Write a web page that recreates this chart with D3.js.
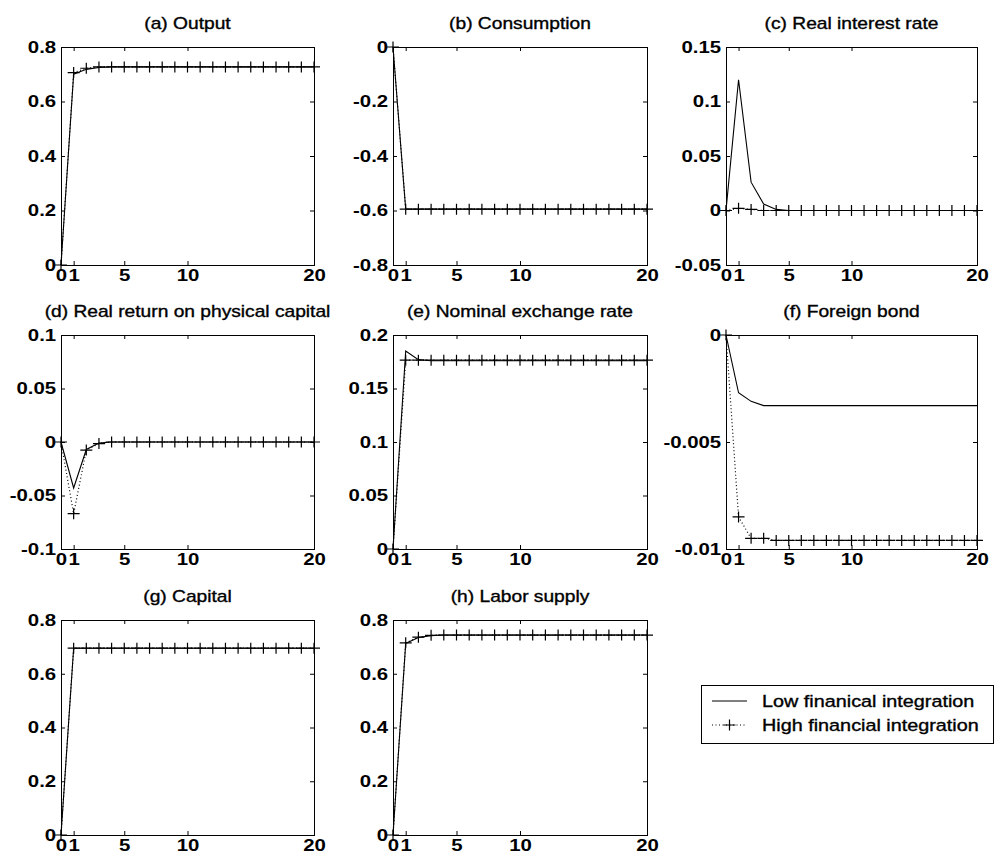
<!DOCTYPE html>
<html>
<head>
<meta charset="utf-8">
<script src="https://cdn.jsdelivr.net/npm/d3@7"></script>
<style>
  body { margin: 0; background: #fff; }
  text { font-family: "Liberation Sans", Arial, sans-serif; fill: #000; }
  .label { stroke: #000; stroke-width: 0.35px; }
</style>
</head>
<body>
<div id="chart"></div>
<script>
/* periods after the shock, and the x ticks that are labelled */
const periods = [0, 1, 2, 3, 4, 5, 6, 7, 8, 9, 10, 11, 12, 13, 14, 15, 16, 17, 18, 19, 20];
const xTicks = [0, 1, 5, 10, 20];

/* (a) Output */
const outputLow  = [0, 0.700, 0.718, 0.725, 0.727, 0.727, 0.727, 0.727, 0.727, 0.727, 0.727, 0.727, 0.727, 0.727, 0.727, 0.727, 0.727, 0.727, 0.727, 0.727, 0.727];
const outputHigh = [0, 0.706, 0.722, 0.727, 0.727, 0.727, 0.727, 0.727, 0.727, 0.727, 0.727, 0.727, 0.727, 0.727, 0.727, 0.727, 0.727, 0.727, 0.727, 0.727, 0.727];

/* (b) Consumption */
const consumptionLow  = [0, -0.595, -0.595, -0.595, -0.595, -0.595, -0.595, -0.595, -0.595, -0.595, -0.595, -0.595, -0.595, -0.595, -0.595, -0.595, -0.595, -0.595, -0.595, -0.595, -0.595];
const consumptionHigh = [0, -0.595, -0.595, -0.595, -0.595, -0.595, -0.595, -0.595, -0.595, -0.595, -0.595, -0.595, -0.595, -0.595, -0.595, -0.595, -0.595, -0.595, -0.595, -0.595, -0.595];

/* (c) Real interest rate */
const interestLow  = [0, 0.120, 0.026, 0.006, 0.001, 0, 0, 0, 0, 0, 0, 0, 0, 0, 0, 0, 0, 0, 0, 0, 0];
const interestHigh = [0, 0.002, 0.001, 0, 0, 0, 0, 0, 0, 0, 0, 0, 0, 0, 0, 0, 0, 0, 0, 0, 0];

/* (d) Real return on physical capital */
const returnLow  = [0, -0.043, -0.007, -0.001, 0, 0, 0, 0, 0, 0, 0, 0, 0, 0, 0, 0, 0, 0, 0, 0, 0];
const returnHigh = [0, -0.067, -0.0075, -0.0015, 0, 0, 0, 0, 0, 0, 0, 0, 0, 0, 0, 0, 0, 0, 0, 0, 0];

/* (e) Nominal exchange rate */
const exchangeLow  = [0, 0.185, 0.177, 0.176, 0.176, 0.176, 0.176, 0.176, 0.176, 0.176, 0.176, 0.176, 0.176, 0.176, 0.176, 0.176, 0.176, 0.176, 0.176, 0.176, 0.176];
const exchangeHigh = [0, 0.1765, 0.1765, 0.1765, 0.1765, 0.1765, 0.1765, 0.1765, 0.1765, 0.1765, 0.1765, 0.1765, 0.1765, 0.1765, 0.1765, 0.1765, 0.1765, 0.1765, 0.1765, 0.1765, 0.1765];

/* (f) Foreign bond */
const bondLow  = [0, -0.0027, -0.0031, -0.0033, -0.0033, -0.0033, -0.0033, -0.0033, -0.0033, -0.0033, -0.0033, -0.0033, -0.0033, -0.0033, -0.0033, -0.0033, -0.0033, -0.0033, -0.0033, -0.0033, -0.0033];
const bondHigh = [0, -0.0085, -0.0095, -0.0095, -0.0096, -0.0096, -0.0096, -0.0096, -0.0096, -0.0096, -0.0096, -0.0096, -0.0096, -0.0096, -0.0096, -0.0096, -0.0096, -0.0096, -0.0096, -0.0096, -0.0096];

/* (g) Capital */
const capitalLow  = [0, 0.695, 0.695, 0.695, 0.695, 0.695, 0.695, 0.695, 0.695, 0.695, 0.695, 0.695, 0.695, 0.695, 0.695, 0.695, 0.695, 0.695, 0.695, 0.695, 0.695];
const capitalHigh = [0, 0.695, 0.695, 0.695, 0.695, 0.695, 0.695, 0.695, 0.695, 0.695, 0.695, 0.695, 0.695, 0.695, 0.695, 0.695, 0.695, 0.695, 0.695, 0.695, 0.695];

/* (h) Labor supply */
const laborLow  = [0, 0.713, 0.735, 0.742, 0.744, 0.744, 0.744, 0.744, 0.744, 0.744, 0.744, 0.744, 0.744, 0.744, 0.744, 0.744, 0.744, 0.744, 0.744, 0.744, 0.744];
const laborHigh = [0, 0.715, 0.736, 0.743, 0.744, 0.744, 0.744, 0.744, 0.744, 0.744, 0.744, 0.744, 0.744, 0.744, 0.744, 0.744, 0.744, 0.744, 0.744, 0.744, 0.744];

const panelTitles = ["(a) Output", "(b) Consumption", "(c) Real interest rate",
                     "(d) Real return on physical capital", "(e) Nominal exchange rate", "(f) Foreign bond",
                     "(g) Capital", "(h) Labor supply"];
const panelLow  = [outputLow, consumptionLow, interestLow, returnLow, exchangeLow, bondLow, capitalLow, laborLow];
const panelHigh = [outputHigh, consumptionHigh, interestHigh, returnHigh, exchangeHigh, bondHigh, capitalHigh, laborHigh];
const panelYTicks = [
  [0, 0.2, 0.4, 0.6, 0.8],
  [-0.8, -0.6, -0.4, -0.2, 0],
  [-0.05, 0, 0.05, 0.1, 0.15],
  [-0.1, -0.05, 0, 0.05, 0.1],
  [0, 0.05, 0.1, 0.15, 0.2],
  [-0.01, -0.005, 0],
  [0, 0.2, 0.4, 0.6, 0.8],
  [0, 0.2, 0.4, 0.6, 0.8]
];
const legendLabels = ["Low finanical integration", "High financial integration"];

/* layout of the 3x3 grid, in page pixels */
const colLeft = [61, 393, 726];
const colRight = [314, 647, 977];
const rowTop = [47, 335, 620];
const rowBottom = [265, 549, 835];

/* the scanned figure is wider than plain Arial, so stretch the text a bit */
const textStretch = 1.2;
const plusPath = "M-6,0H6M0,-5.5V5.5";

const svg = d3.select("#chart")
  .append("svg")
    .attr("width", 1000)
    .attr("height", 860);

panelTitles.forEach((title, i) => {
  const row = Math.floor(i / 3);
  const col = i % 3;
  const w = colRight[col] - colLeft[col];
  const h = rowBottom[row] - rowTop[row];
  const ticks = panelYTicks[i];

  const x = d3.scaleLinear().domain([0, 20]).range([0, w]);
  const y = d3.scaleLinear().domain(d3.extent(ticks)).range([h, 0]);

  const g = svg.append("g")
    .attr("transform", "translate(" + colLeft[col] + "," + rowTop[row] + ")");

  /* axes, with matlab style inward ticks on all four sides */
  const left = g.append("g")
    .call(d3.axisLeft(y).tickValues(ticks).tickSize(-4).tickPadding(4).tickFormat(d => String(d)));
  const right = g.append("g")
    .attr("transform", "translate(" + w + ",0)")
    .call(d3.axisRight(y).tickValues(ticks).tickSize(-4).tickFormat(""));
  const bottom = g.append("g")
    .attr("transform", "translate(0," + h + ")")
    .call(d3.axisBottom(x).tickValues(xTicks).tickSize(-4).tickPadding(4).tickFormat(d => String(d)));
  const top = g.append("g")
    .call(d3.axisTop(x).tickValues(xTicks).tickSize(-4).tickFormat(""));

  [left, right, bottom, top].forEach(a => {
    a.select(".domain").remove();
    a.attr("font-family", null).attr("font-size", null);
    a.selectAll("line").attr("stroke", "#000");
  });
  [left, bottom].forEach(a => {
    a.selectAll("text")
      .style("font-size", "17px")
      .style("font-weight", "bold")
      .attr("transform", "scale(" + textStretch + ",1)");
  });

  g.append("rect")
    .attr("width", w)
    .attr("height", h)
    .attr("fill", "none")
    .attr("stroke", "#000")
    .attr("stroke-width", 1)
    .attr("shape-rendering", "crispEdges");

  const line = d3.line()
    .x((d, j) => x(periods[j]))
    .y(d => y(d));

  g.append("path")
    .datum(panelHigh[i])
    .attr("d", line)
    .attr("fill", "none")
    .attr("stroke", "#000")
    .attr("stroke-width", 1.2)
    .attr("stroke-dasharray", "1,2.5");

  g.append("path")
    .datum(panelLow[i])
    .attr("d", line)
    .attr("fill", "none")
    .attr("stroke", "#000")
    .attr("stroke-width", 1.1);

  g.selectAll(".plus")
    .data(panelHigh[i])
    .join("path")
      .attr("class", "plus")
      .attr("transform", (d, j) => "translate(" + x(periods[j]) + "," + y(d) + ")")
      .attr("d", plusPath)
      .attr("fill", "none")
      .attr("stroke", "#000")
      .attr("stroke-width", 1.2);

  g.append("text")
    .attr("class", "label")
    .attr("transform", "translate(" + (w / 2) + ",-18) scale(" + textStretch + ",1)")
    .attr("text-anchor", "middle")
    .style("font-size", "16px")
    .text(title);
});

/* legend */
const legend = svg.append("g").attr("transform", "translate(701,685)");
legend.append("rect")
  .attr("width", 292)
  .attr("height", 58)
  .attr("fill", "#fff")
  .attr("stroke", "#000")
  .attr("stroke-width", 1)
  .attr("shape-rendering", "crispEdges");

legendLabels.forEach((label, i) => {
  const ly = 16 + i * 24;
  const sample = legend.append("line")
    .attr("x1", 11).attr("x2", 46)
    .attr("y1", ly).attr("y2", ly)
    .attr("stroke", "#000");
  if (i === 0) {
    sample.attr("stroke-width", 1.1);
  } else {
    sample.attr("stroke-width", 1.2).attr("stroke-dasharray", "1,2.5");
    legend.append("path")
      .attr("transform", "translate(28.5," + ly + ")")
      .attr("d", plusPath)
      .attr("fill", "none")
      .attr("stroke", "#000")
      .attr("stroke-width", 1.2);
  }
  legend.append("text")
    .attr("class", "label")
    .attr("transform", "translate(61," + (ly + 6) + ") scale(" + textStretch + ",1)")
    .style("font-size", "16.5px")
    .text(label);
});
</script>
</body>
</html>
